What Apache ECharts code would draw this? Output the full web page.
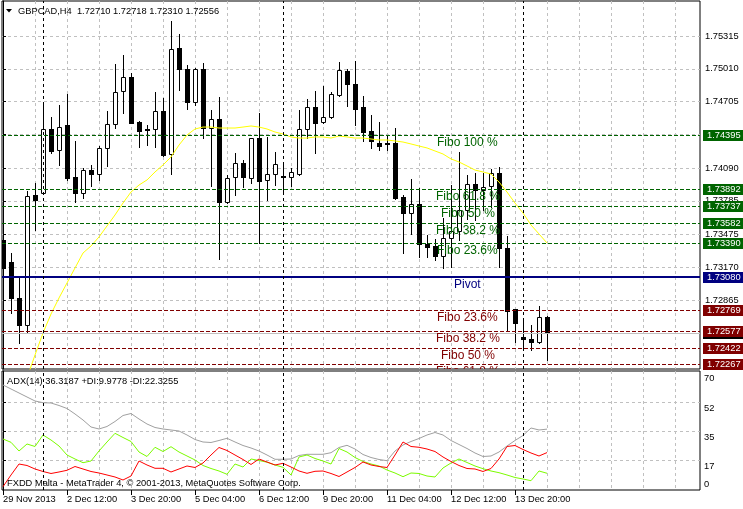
<!DOCTYPE html>
<html><head><meta charset="utf-8">
<script src="https://cdn.jsdelivr.net/npm/echarts@6/dist/echarts.min.js"></script>
<style>html,body{margin:0;padding:0;background:#fff}#c{width:743px;height:509px}</style>
</head><body><div id="c"></div>
<script>
// ---- data (H4 candles, index 0 = 29 Nov 2013 04:00) ----
const opens  = [1.73422,1.73220,1.72886,1.72633,1.73839,1.73855,1.74449,1.74257,1.74486,1.74004,1.73855,1.74069,1.74032,1.74273,1.74496,1.74802,1.74932,1.74517,1.74452,1.74449,1.74619,1.74217,1.75201,1.75006,1.74705,1.75006,1.74458,1.74542,1.73772,1.74009,1.74134,1.73994,1.74366,1.73976,1.74034,1.74013,1.74004,1.74037,1.74449,1.74653,1.74514,1.74561,1.74767,1.74993,1.74867,1.74653,1.74433,1.74322,1.74322,1.74319,1.73821,1.73675,1.73753,1.73387,1.73363,1.73276,1.73438,1.73508,1.73700,1.73939,1.73890,1.73923,1.74044,1.73345,1.72779,1.72519,1.72500,1.72471,1.72710];
const closes = [1.73162,1.72886,1.72633,1.73833,1.73793,1.74449,1.74251,1.74473,1.74000,1.73861,1.74069,1.74032,1.74273,1.74496,1.74793,1.74932,1.74510,1.74436,1.74443,1.74619,1.74211,1.75192,1.75006,1.74705,1.75006,1.74458,1.74542,1.73772,1.74000,1.74134,1.74004,1.74366,1.73972,1.74032,1.74124,1.74006,1.74050,1.74449,1.74653,1.74505,1.74561,1.74774,1.74997,1.74867,1.74640,1.74427,1.74343,1.74297,1.74310,1.73814,1.73675,1.73753,1.73385,1.73360,1.73276,1.73438,1.73505,1.73696,1.73939,1.73889,1.73918,1.74041,1.73345,1.72766,1.72649,1.72500,1.72471,1.72705,1.72556];
const highs  = [1.73515,1.73301,1.73088,1.73879,1.73954,1.74681,1.74566,1.74675,1.74777,1.74341,1.74087,1.74121,1.74297,1.74619,1.75055,1.75139,1.74974,1.74529,1.74492,1.74793,1.74737,1.75454,1.75336,1.75046,1.75015,1.75062,1.74628,1.74752,1.74025,1.74226,1.74164,1.74370,1.74598,1.74380,1.74236,1.74118,1.74087,1.74628,1.74730,1.74805,1.74851,1.74795,1.75076,1.75006,1.75083,1.74758,1.74582,1.74520,1.74390,1.74464,1.73839,1.73988,1.73902,1.73465,1.73428,1.73629,1.73932,1.74238,1.74025,1.74044,1.74048,1.74078,1.74102,1.73456,1.72781,1.72679,1.72633,1.72807,1.72718];
const lows   = [1.73125,1.72744,1.72466,1.72571,1.73515,1.73850,1.74232,1.74118,1.73979,1.73772,1.73814,1.73926,1.73979,1.74111,1.74458,1.74603,1.74505,1.74288,1.74306,1.74288,1.74205,1.74037,1.74814,1.74635,1.74675,1.74366,1.73926,1.73243,1.73762,1.73839,1.73916,1.73948,1.73391,1.73793,1.73932,1.73870,1.73926,1.74025,1.74366,1.74232,1.74510,1.74551,1.74761,1.74665,1.74489,1.74343,1.74273,1.74257,1.74257,1.73802,1.73304,1.73475,1.73267,1.73267,1.73236,1.73165,1.73174,1.73422,1.73617,1.73607,1.73700,1.73731,1.73171,1.72573,1.72478,1.72432,1.72401,1.72463,1.72310];
const maValues = [null,null,null,1.72141,1.72355,1.72559,1.72735,1.72884,1.73023,1.73162,1.73301,1.73366,1.73450,1.73552,1.73654,1.73765,1.73867,1.73932,1.73979,1.74053,1.74118,1.74192,1.74303,1.74396,1.74452,1.74470,1.74470,1.74461,1.74461,1.74461,1.74470,1.74480,1.74470,1.74452,1.74424,1.74405,1.74378,1.74368,1.74368,1.74378,1.74378,1.74368,1.74387,1.74378,1.74368,1.74368,1.74359,1.74350,1.74350,1.74341,1.74331,1.74313,1.74294,1.74276,1.74248,1.74220,1.74174,1.74146,1.74109,1.74071,1.74053,1.74034,1.73960,1.73867,1.73765,1.73672,1.73561,1.73478,1.73394];
const adxValues = [62.65,60.27,57.88,55.49,53.11,52.09,51.91,50.42,48.63,45.35,41.77,37.59,36.40,37.89,40.87,44.45,45.65,42.37,39.38,37.29,36.40,35.80,35.21,32.82,30.13,28.64,28.34,29.54,30.85,28.64,26.55,25.06,23.27,20.88,18.32,18.32,18.50,20.59,21.30,21.30,21.30,22.26,25.36,26.67,24.46,21.18,19.39,18.20,17.48,23.27,26.85,28.94,30.73,32.82,34.31,32.82,29.54,27.15,24.76,22.08,19.99,20.29,22.67,26.25,29.54,32.52,37.00,35.80,36.3187];
const plusDI = [30.43,28.46,23.27,27.45,25.96,32.82,29.84,26.25,20.88,18.50,16.29,17.30,23.27,28.64,33.83,31.33,28.94,22.67,19.99,25.48,22.97,25.84,22.67,20.29,17.90,14.62,12.83,11.34,9.37,15.51,13.72,18.50,17.60,16.59,14.92,13.55,8.95,19.69,20.88,18.80,17.30,15.51,24.76,22.67,19.39,17.01,15.51,14.32,11.93,10.14,7.94,10.14,9.85,8.35,7.76,13.13,16.11,18.50,16.41,14.32,12.71,11.34,10.32,8.95,7.46,6.56,5.55,11.34,9.9778];
const minusDI = [1.97,8.95,15.51,14.62,12.53,11.04,9.85,10.74,11.76,14.02,12.53,11.04,10.14,8.95,7.76,5.97,8.35,17.30,14.92,12.95,12.95,10.74,12.53,14.32,13.43,16.11,20.88,25.36,23.57,20.88,18.20,15.22,18.50,16.71,14.92,15.93,13.72,11.34,9.96,11.16,11.34,9.85,8.06,10.74,13.43,16.71,14.92,14.02,13.43,20.88,28.64,25.96,25.48,24.46,22.97,19.69,17.01,14.62,12.83,12.53,11.04,12.83,18.50,25.96,26.55,24.17,22.08,20.29,22.3255];

// horizontal levels (first = bid line, then the indicator's levels)
const levelPrices = [1.72556,1.74395,1.73892,1.73737,1.73582,1.73390,1.73080,1.72769,1.72577,1.72422,1.72267];
const levelNames  = ['','Fibo 100 %','Fibo 61.8 %','Fibo 50 %','Fibo 38.2 %','Fibo 23.6%','Pivot','Fibo 23.6%','Fibo 38.2 %','Fibo 50 %','Fibo 61.8 %'];
const levelKinds  = ['bid','up','up','up','up','up','pivot','down','down','down','down'];
const levelTextX  = [null,54.2,54.1,54.7,54.1,54.2,56.4,54.2,54.1,54.7,54.1];

// axis tick labels
const yTickLabels = ['1.75315','1.75010','1.74705','1.74400','1.74090','1.73785','1.73475','1.73170','1.72865','1.72560'];
const xLabelIdx = [0,8,16,24,32,40,48,56,64];
const xTickLabels = ['29 Nov 2013','2 Dec 12:00','3 Dec 20:00','5 Dec 04:00','6 Dec 12:00','9 Dec 20:00','11 Dec 04:00','12 Dec 12:00','13 Dec 20:00'];
const vGridIdx = [4,8,12,16,20,24,28,32,36,40,44,48,52,56,60,64,68,72,76,80,84];
const weekSeparators = [5,35,65];
const adxTickVals = [0,17.5,35,52.5,70];
const adxTickLabels = ['0','17','35','52','70'];

const FONT = 'Liberation Sans';
const colors = {up:'#006400', pivot:'#000080', down:'#800000', bid:'#c0c0c0'};
const boxColors = {up:'#006400', pivot:'#000080', down:'#800000', bid:'#000000'};
const yGridVals = yTickLabels.map(Number);

const candleData = opens.map((o,i)=>[i,o,closes[i],lows[i],highs[i]]);
const maData = maValues.map((v,i)=>[i,v]).filter(d=>d[1]!==null);
const toXY = arr => arr.map((v,i)=>[i,v]);
const levelData = levelPrices.map((p,k)=>[0,p,k]);
const textData = levelPrices.map((p,k)=>[levelTextX[k],p,k]).filter(d=>d[0]!==null);

function renderCandle(params, api){
  const i=api.value(0), o=api.value(1), c=api.value(2), l=api.value(3), h=api.value(4);
  const pO=api.coord([i,o]), pC=api.coord([i,c]), pL=api.coord([i,l]), pH=api.coord([i,h]);
  const cx=Math.round(pO[0]);
  const yT=Math.round(Math.min(pO[1],pC[1])), yB=Math.round(Math.max(pO[1],pC[1]));
  const ch=[{type:'line',shape:{x1:cx+0.5,y1:Math.round(pH[1]),x2:cx+0.5,y2:Math.round(pL[1])+1},style:{stroke:'#000',lineWidth:1}}];
  if (c>o) ch.push({type:'rect',shape:{x:cx-1.5,y:yT+0.5,width:4,height:Math.max(yB-yT,1)},style:{fill:'#fff',stroke:'#000',lineWidth:1}});
  else ch.push({type:'rect',shape:{x:cx-2,y:yT,width:5,height:Math.max(yB-yT+1,1)},style:{fill:'#000'}});
  return {type:'group',children:ch};
}
function renderLevel(params, api){
  const p=api.value(1), k=api.value(2);
  const kind=levelKinds[k];
  const cs=params.coordSys;
  const y=api.coord([0,p])[1];
  const w = kind==='pivot'?2:1;
  const yy = w===1 ? Math.round(y)+0.5 : Math.round(y);
  return {type:'group',children:[
    {type:'line',shape:{x1:cs.x,y1:yy,x2:cs.x+cs.width,y2:yy},
     style:{stroke:colors[kind],lineWidth:w,lineDash:(kind==='up'||kind==='down')?[4,2]:null}},
    {type:'text',x:cs.x+cs.width+3,y:Math.round(y)+0.5,
     style:{text:p.toFixed(5),fill:'#fff',backgroundColor:boxColors[kind],padding:[1,3,0,4],
       fontSize:9.3,fontFamily:FONT,lineHeight:10,align:'left',verticalAlign:'middle'}}
  ]};
}
function renderText(params, api){
  const k=api.value(2);
  const p=api.coord([api.value(0),api.value(1)]);
  return {type:'text',x:Math.round(p[0]),y:p[1]+1.5,style:{text:levelNames[k],fill:colors[levelKinds[k]],fontSize:12,fontFamily:FONT,align:'left',verticalAlign:'top'}};
}

const gridLine = {show:true,lineStyle:{color:'#c0c0c0',type:[3,3],width:1}};
const sepLines = weekSeparators.map(v=>({xAxis:v}));

const chart = echarts.init(document.getElementById('c'),null,{renderer:'canvas'});
chart.setOption({
  animation:false,
  backgroundColor:'#fff',
  grid:[
    {left:2,top:1,width:698,height:368,show:true,borderColor:'#000',borderWidth:1,backgroundColor:'#fff'},
    {left:2,top:371,width:698,height:119,show:true,borderColor:'#000',borderWidth:1,backgroundColor:'#fff'}
  ],
  xAxis:[
    {type:'value',gridIndex:0,min:-0.125,max:87.125,axisLine:{show:false},axisLabel:{show:false},
     axisTick:{show:false,customValues:vGridIdx},splitLine:gridLine},
    {type:'value',gridIndex:1,min:-0.125,max:87.125,position:'bottom',axisLine:{show:false},
     axisTick:{show:true,customValues:xLabelIdx,length:5,lineStyle:{color:'#000'}},
     axisLabel:{show:true,customValues:xLabelIdx,align:'left',margin:5,fontSize:9.3,fontFamily:FONT,color:'#000',
       formatter:v=>xTickLabels[xLabelIdx.indexOf(Math.round(v))]||''},
     splitLine:{show:false}},
    {type:'value',gridIndex:1,min:-0.125,max:87.125,axisLine:{show:false},axisLabel:{show:false},
     axisTick:{show:false,customValues:vGridIdx},splitLine:gridLine}
  ],
  yAxis:[
    {type:'value',gridIndex:0,position:'right',min:1.722247,max:1.756397,scale:true,
     axisLine:{show:true,lineStyle:{color:'#000'}},
     axisTick:{show:true,length:3,customValues:yGridVals,lineStyle:{color:'#000'}},
     axisLabel:{show:true,customValues:yGridVals,margin:5,fontSize:9.3,fontFamily:FONT,color:'#000',
       formatter:v=>{let b=0;yGridVals.forEach((g,k)=>{if(Math.abs(g-v)<Math.abs(yGridVals[b]-v))b=k;});return yTickLabels[b];}},
     splitLine:gridLine},
    {type:'value',gridIndex:1,position:'right',min:0,max:71,
     axisLine:{show:true,lineStyle:{color:'#000'}},
     axisTick:{show:true,length:3,customValues:[17.5,35,52.5],lineStyle:{color:'#000'}},
     axisLabel:{show:true,customValues:adxTickVals,margin:4,fontSize:9.3,lineHeight:12,fontFamily:FONT,color:'#000',
       formatter:v=>{const k=adxTickVals.indexOf(v);const t=adxTickLabels[k];return v===0?t+'\n ':' \n'+t;}},
     splitLine:gridLine}
  ],
  series:[
    {type:'custom',name:'candles',xAxisIndex:0,yAxisIndex:0,data:candleData,renderItem:renderCandle,clip:true,z:2,
     encode:{x:0,y:[1,2,3,4]},
     markLine:{silent:true,symbol:['none','none'],animation:false,label:{show:false},
       lineStyle:{color:'#000',type:[3,3],width:1},data:sepLines}},
    {type:'line',name:'MA',xAxisIndex:0,yAxisIndex:0,data:maData,showSymbol:false,z:3,
     lineStyle:{color:'#ffff00',width:1},clip:true},
    {type:'custom',name:'levels',xAxisIndex:0,yAxisIndex:0,data:levelData,renderItem:renderLevel,clip:false,z:4,
     encode:{x:0,y:1}},
    {type:'custom',name:'texts',xAxisIndex:0,yAxisIndex:0,data:textData,renderItem:renderText,clip:true,z:5,
     encode:{x:0,y:1}},
    {type:'line',name:'ADX',xAxisIndex:1,yAxisIndex:1,data:toXY(adxValues),showSymbol:false,lineStyle:{color:'#a0a0a0',width:1},
     markLine:{silent:true,symbol:['none','none'],animation:false,label:{show:false},
       lineStyle:{color:'#000',type:[3,3],width:1},data:sepLines}},
    {type:'line',name:'+DI',xAxisIndex:1,yAxisIndex:1,data:toXY(plusDI),showSymbol:false,lineStyle:{color:'#7cfc00',width:1}},
    {type:'line',name:'-DI',xAxisIndex:1,yAxisIndex:1,data:toXY(minusDI),showSymbol:false,lineStyle:{color:'#ff0000',width:1}}
  ],
  graphic:[
    {type:'polygon',shape:{points:[[6,9],[12,9],[9,12.5]]},style:{fill:'#000'},z:100},
    {type:'text',x:18,y:11,style:{text:'GBPCAD,H4  1.72710 1.72718 1.72310 1.72556',fill:'#000',fontSize:9.3,fontFamily:FONT,verticalAlign:'middle'},z:100},
    {type:'text',x:7,y:381,style:{text:'ADX(14) 36.3187 +DI:9.9778 -DI:22.3255',fill:'#000',fontSize:9.3,fontFamily:FONT,verticalAlign:'middle'},z:100},
    {type:'text',x:7,y:483.5,style:{text:'FXDD Malta - MetaTrader 4, \u00a9 2001-2013, MetaQuotes Software Corp.',fill:'#000',fontSize:9.3,fontFamily:FONT,verticalAlign:'middle'},z:100}
  ]
});
</script></body></html>
